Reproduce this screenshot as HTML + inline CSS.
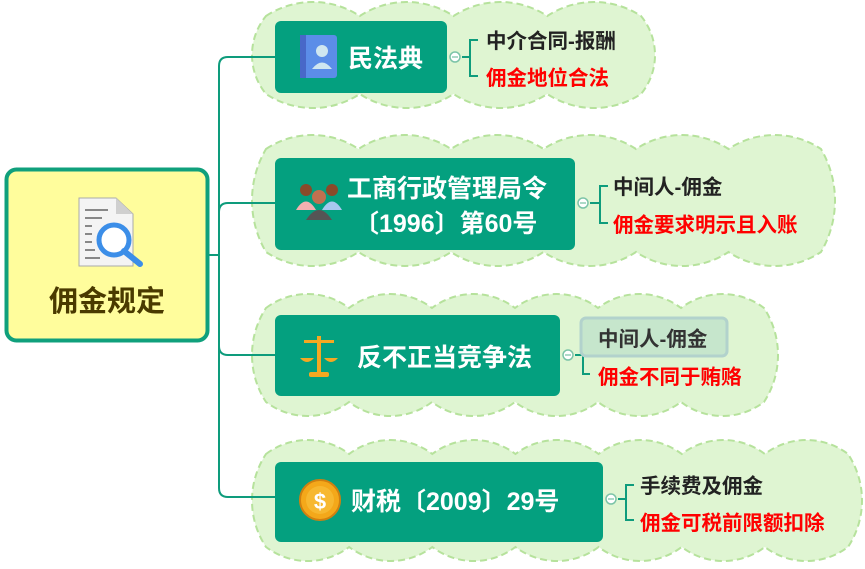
<!DOCTYPE html>
<html><head><meta charset="utf-8"><style>
html,body{margin:0;padding:0;background:#fff;width:865px;height:569px;overflow:hidden}
svg{display:block}
text{font-family:"Liberation Sans","Noto Sans CJK SC",sans-serif;font-weight:bold}
</style></head><body>
<svg id="s" width="865" height="569" viewBox="0 0 865 569" xmlns="http://www.w3.org/2000/svg">
<g id="clouds"></g>
<g fill="none" stroke="#0e9c7c" stroke-width="2">
<path d="M209 255 H219 M219 66 V488 Q219 497 228 497 H275 M219 66 Q219 57 228 57 H275 M219 212 Q219 203 228 203 H275 M219 346 Q219 355 228 355 H275"/>
<path d="M462 57 H470 M478 40 H470 V76 H478"/>
<path d="M590 203 H600 M608 186 H600 V223 H608"/>
<path d="M575 355 H583 M590 337 H583 V374 H590"/>
<path d="M618 499 H626 M634 485 H626 V520 H634"/>
</g>
<rect x="6.5" y="169.5" width="201" height="171" rx="10" fill="#fffd9c" stroke="#10a07c" stroke-width="4"/>
<g>
<path d="M79 198 H116 L133 214 V266 H79 Z" fill="#f4f4f4" stroke="#aaa" stroke-width="1"/>
<path d="M116 198 V214 H133 Z" fill="#cfcfcf"/>
<g stroke="#888" stroke-width="2"><path d="M85 210H108 M85 218H102 M85 226H92 M85 234H92 M85 242H92 M85 250H95 M85 258H100"/></g>
<circle cx="114" cy="240" r="15" fill="#fff" stroke="#3c8ee8" stroke-width="5"/>
<path d="M124 251 L140 264" stroke="#3c8ee8" stroke-width="6" stroke-linecap="round"/>
</g>
<text x="107" y="311" font-size="29" fill="#4a3a00" text-anchor="middle">佣金规定</text>
<g fill="#04a07f">
<rect x="275" y="21" width="172" height="72" rx="6"/>
<rect x="275" y="158" width="300" height="92" rx="6"/>
<rect x="275" y="315" width="285" height="81" rx="6"/>
<rect x="275" y="462" width="328" height="80" rx="6"/>
</g>
<rect x="300" y="35" width="37" height="43" rx="3" fill="#5b8de8"/><rect x="300" y="35" width="6" height="43" fill="#4868c8"/>
<circle cx="322" cy="51" r="6" fill="#cfe6f0"/><path d="M312 69 Q322 56 332 69 Z" fill="#cfe6f0"/>
<g>
<circle cx="306" cy="190" r="6" fill="#8a4a2a"/><path d="M296 210 Q306 193 316 210Z" fill="#f4b0b0"/>
<circle cx="332" cy="190" r="6" fill="#8a4a2a"/><path d="M322 210 Q332 193 342 210Z" fill="#a8c8f0"/>
<circle cx="319" cy="197" r="7" fill="#c07050"/><path d="M306 220 Q319 200 332 220Z" fill="#555"/>
</g>
<g fill="#f6a821"><rect x="317" y="336" width="4" height="36"/><rect x="304" y="340" width="30" height="3"/><rect x="309" y="372" width="20" height="5" rx="2"/>
<path d="M300 358 H314 Q307 366 300 358Z"/><path d="M324 358 H338 Q331 366 324 358Z"/></g>
<circle cx="320" cy="500" r="20" fill="#f4a81a" stroke="#d08010" stroke-width="2"/><circle cx="320" cy="500" r="14" fill="#f7b830"/>
<text x="320" y="509" font-size="22" fill="#fff" text-anchor="middle" font-weight="normal">$</text>
<g fill="#fff" font-size="25">
<text x="348" y="67">民法典</text>
<text x="347" y="197">工商行政管理局令</text>
<text x="354" y="232">〔1996〕第60号</text>
<text x="357" y="366">反不正当竞争法</text>
<text x="351" y="510">财税〔2009〕29号</text>
</g>
<g fill="#fff" stroke="#7cc4a8" stroke-width="1.5">
<circle cx="455" cy="57" r="5"/><circle cx="583" cy="203" r="5"/><circle cx="568" cy="355" r="5"/><circle cx="611" cy="499" r="5"/>
</g>
<g stroke="#7cc4a8" stroke-width="1.2"><path d="M452 57H458 M580 203H586 M565 355H571 M608 499H614"/></g>
<rect x="581" y="318" width="146" height="38" rx="5" fill="#c6e6cc" stroke="#b2d2cc" stroke-width="3"/>
<g font-size="20.5">
<text x="486" y="48" fill="#222">中介合同-报酬</text>
<text x="486" y="85" fill="#ff0000">佣金地位合法</text>
<text x="613" y="194" fill="#222">中间人-佣金</text>
<text x="613" y="232" fill="#ff0000">佣金要求明示且入账</text>
<text x="598" y="346" fill="#333">中间人-佣金</text>
<text x="598" y="384" fill="#ff0000">佣金不同于贿赂</text>
<text x="640" y="493" fill="#222">手续费及佣金</text>
<text x="640" y="530" fill="#ff0000">佣金可税前限额扣除</text>
</g>
</svg>
<script>
function cloud(x0,y0,x1,y1){
 var r=14,ix0=x0+r,iy0=y0+r,ix1=x1-r,iy1=y1-r,pts=[];
 function seg(ax,ay,bx,by){var L=Math.hypot(bx-ax,by-ay),n=Math.max(1,Math.round(L/86));for(var i=0;i<n;i++)pts.push([ax+(bx-ax)*i/n,ay+(by-ay)*i/n]);}
 seg(ix0,iy0,ix1,iy0);seg(ix1,iy0,ix1,iy1);seg(ix1,iy1,ix0,iy1);seg(ix0,iy1,ix0,iy0);
 var d="M"+pts[0][0]+" "+pts[0][1];
 for(var i=1;i<=pts.length;i++){var p=pts[i%pts.length],q=pts[i-1];var h=Math.hypot(p[0]-q[0],p[1]-q[1])/2;
  var rr=(h*h+r*r)/(2*r); if(rr<h)rr=h;
  d+=" A"+rr+" "+rr+" 0 0 1 "+p[0]+" "+p[1];}
 return '<path d="'+d+'Z" fill="#dff5d2" stroke="#b6e29c" stroke-width="2" stroke-dasharray="7 4"/>';
}
var ns="http://www.w3.org/2000/svg";
var g=document.getElementById('clouds');
[[252,2,655,108],[252,135,835,266],[252,294,778,416],[252,440,862,561]].forEach(function(c){
 var tmp=new DOMParser().parseFromString('<svg xmlns="'+ns+'">'+cloud(c[0],c[1],c[2],c[3])+'</svg>','image/svg+xml');
 g.appendChild(document.importNode(tmp.documentElement.firstChild,true));
});
</script>
</body></html>
